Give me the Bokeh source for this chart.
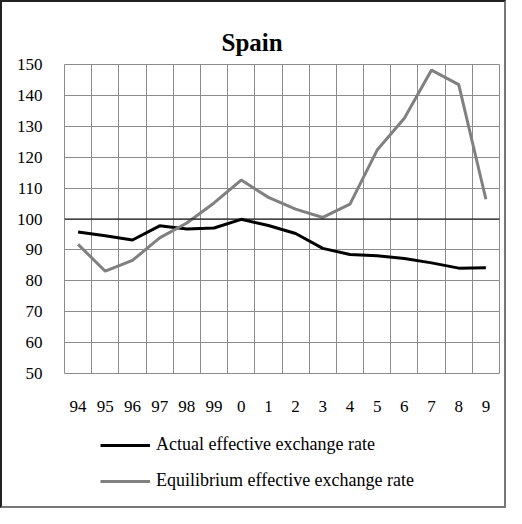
from bokeh.plotting import figure
from bokeh.layouts import column
from bokeh.models import FixedTicker, Span, Legend, LegendItem, Title
from bokeh.embed import file_html
from bokeh.resources import INLINE

years = ["94", "95", "96", "97", "98", "99", "0", "1", "2", "3", "4", "5", "6", "7", "8", "9"]
actual = [95.8, 94.6, 93.2, 97.8, 96.8, 97.1, 99.9, 97.9, 95.3, 90.5, 88.5, 88.1, 87.2, 85.8, 84.1, 84.2]
equilibrium = [91.8, 83.1, 86.6, 93.9, 98.7, 105.2, 112.6, 107.0, 103.2, 100.5, 104.8, 122.3, 132.6, 148.2, 143.5, 106.4]
y_ticks = [50, 60, 70, 80, 90, 100, 110, 120, 130, 140, 150]
title_text = "Spain"
series_names = ["Actual effective exchange rate", "Equilibrium effective exchange rate"]
series_colors = ["black", "#808080"]

FONT = "Liberation Serif"
GRID = "#8c8c8c"

xs = [i + 0.5 for i in range(len(years))]

p = figure(width=502, height=420, x_range=(0, len(years)), y_range=(y_ticks[0], y_ticks[-1]),
           output_backend="svg", toolbar_location=None,
           min_border_left=62, min_border_right=5, min_border_top=62, min_border_bottom=49)
p.title = None
p.background_fill_color = "white"
p.border_fill_color = "white"
p.outline_line_color = GRID
p.outline_line_width = 1

t = Title(text=title_text, align="left", offset=157, standoff=17,
          text_font=FONT, text_font_size="25px", text_font_style="bold", text_color="black")
p.add_layout(t, "above")

# grids
p.xgrid.ticker = FixedTicker(ticks=list(range(len(years) + 1)))
p.ygrid.ticker = FixedTicker(ticks=y_ticks)
for g in (p.xgrid, p.ygrid):
    g.grid_line_color = GRID
    g.grid_line_width = 1

# axes
p.xaxis.ticker = FixedTicker(ticks=xs)
p.xaxis.major_label_overrides = {x: lab for x, lab in zip(xs, years)}
p.yaxis.ticker = FixedTicker(ticks=y_ticks)
for ax in (p.xaxis, p.yaxis):
    ax.axis_line_color = None
    ax.major_tick_line_color = None
    ax.minor_tick_line_color = None
    ax.major_tick_out = 0
    ax.major_tick_in = 0
    ax.major_label_text_font = FONT
    ax.major_label_text_font_size = "17px"
    ax.major_label_text_color = "black"
p.yaxis.major_label_standoff = 22
p.xaxis.major_label_standoff = 27

p.add_layout(Span(location=100, dimension="width", line_color="black", line_width=1))

p.line(xs, actual, line_color=series_colors[0], line_width=3)
p.line(xs, equilibrium, line_color=series_colors[1], line_width=3)

# legend panel below the chart (its lines lie outside its visible range; only the legend shows)
p2 = figure(width=502, height=84, x_range=(0, 1), y_range=(0, 1),
            x_axis_type=None, y_axis_type=None, output_backend="svg", toolbar_location=None,
            min_border=0)
p2.title = None
p2.outline_line_color = None
p2.grid.visible = False
p2.background_fill_color = "white"
p2.border_fill_color = "white"
l1 = p2.line(xs, actual, line_color=series_colors[0], line_width=3)
l2 = p2.line(xs, equilibrium, line_color=series_colors[1], line_width=3)
legend = Legend(items=[LegendItem(label=series_names[0], renderers=[l1]),
                       LegendItem(label=series_names[1], renderers=[l2])],
                location=(36, 15), orientation="vertical",
                glyph_width=50, glyph_height=20, label_height=20, label_standoff=6,
                spacing=15, padding=0, margin=0,
                label_text_font=FONT, label_text_font_size="18px", label_text_color="black",
                border_line_color=None, background_fill_alpha=0)
p2.add_layout(legend, "center")

layout = column(p, p2, spacing=0, styles={
    "border-left": "2px solid #222222", "border-top": "2px solid #222222",
    "border-right": "2px solid #777777", "border-bottom": "2px solid #777777",
    "background": "white"})

open("out.html", "w").write(file_html(layout, INLINE))
